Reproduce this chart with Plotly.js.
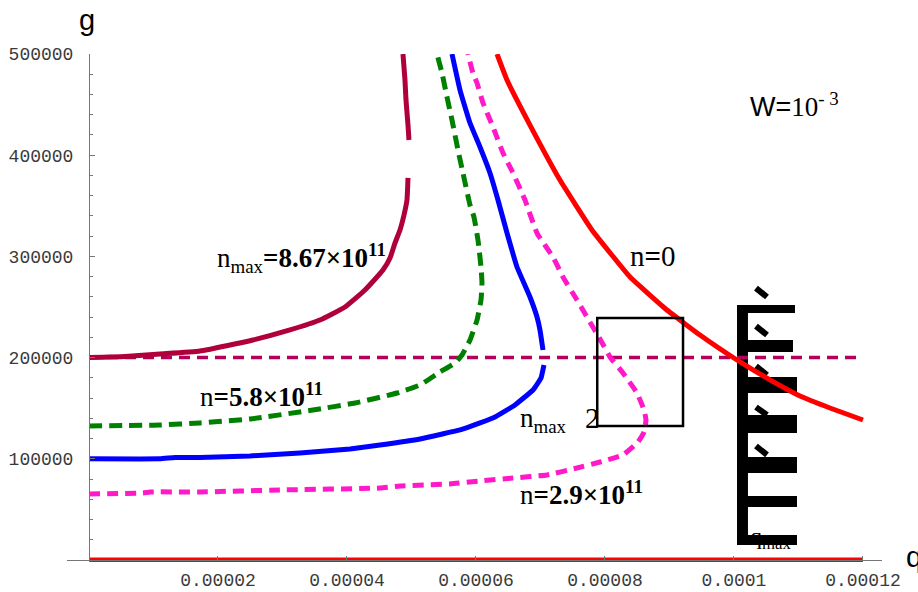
<!DOCTYPE html>
<html>
<head>
<meta charset="utf-8">
<script src="https://cdn.plot.ly/plotly-3.0.1.min.js"></script>
<style>html,body{margin:0;padding:0;background:#fff;}#chart{width:918px;height:592px;}</style>
</head>
<body>
<div id="chart"></div>
<script>
// ---- data ----
const xTickVals = [0.00002, 0.00004, 0.00006, 0.00008, 0.0001, 0.00012];
const xTickText = ["0.00002", "0.00004", "0.00006", "0.00008", "0.0001", "0.00012"];
const yTickVals = [100000, 200000, 300000, 400000, 500000];
const yTickText = ["100000", "200000", "300000", "400000", "500000"];

// n = 0 (red, solid)
const redX = [6.326e-5, 6.481e-5, 6.837e-5, 7.302e-5, 7.798e-5, 8.388e-5, 8.961e-5, 9.473e-5, 1.0047e-4, 1.0558e-4, 1.1023e-4, 1.1488e-4, 1.2e-4];
const redY = [500000, 474300, 429800, 375500, 326100, 279600, 247000, 222300, 197600, 177900, 162000, 150200, 138300];
// n = 0 lower branch (g = 0)
const redZeroX = [0, 0.00012];
const redZeroY = [0, 0];

// n_max = 8.67e11 (maroon, solid)
const maroonX = [0, 5.58e-6, 1.101e-5, 1.721e-5, 2.543e-5, 3.116e-5, 3.581e-5, 3.969e-5, 4.279e-5, 4.558e-5, 4.667e-5, 4.744e-5, 4.822e-5, 4.884e-5, 4.930e-5, 4.946e-5, null, 4.961e-5, 4.946e-5, 4.915e-5, 4.899e-5, 4.868e-5];
const maroonY = [200000, 201000, 203500, 206500, 217400, 227300, 237100, 250000, 266800, 286500, 298400, 313200, 326100, 340900, 355700, 377500, null, 415000, 429800, 454500, 474300, 500000];

// n = 5.8e11 (green, dashed)
const greenX = [0, 1.101e-5, 1.721e-5, 2.496e-5, 3.473e-5, 4.124e-5, 4.775e-5, 5.132e-5, 5.442e-5, 5.674e-5, 5.783e-5, 5.907e-5, 6.016e-5, 6.078e-5, 6.093e-5, 6.078e-5, 6.031e-5, 5.969e-5, 5.907e-5, 5.798e-5, 5.721e-5, 5.628e-5, 5.550e-5, 5.473e-5, 5.395e-5];
const greenY = [132400, 133400, 135400, 139300, 148200, 155100, 165000, 172900, 185800, 194700, 202600, 217400, 237100, 256900, 273700, 289500, 316200, 338900, 350800, 382400, 405100, 434800, 457500, 481200, 500000];

// n_max / 2 (blue, solid)
const blueX = [0, 1.101e-5, 1.333e-5, 1.721e-5, 2.496e-5, 3.271e-5, 4.047e-5, 4.512e-5, 5.132e-5, 5.752e-5, 6.062e-5, 6.295e-5, 6.605e-5, 6.884e-5, 7.008e-5, 7.054e-5, null, 7.039e-5, 6.992e-5, 6.946e-5, 6.837e-5, 6.636e-5, 6.481e-5, 6.341e-5, 6.217e-5, 6.062e-5, 5.907e-5, 5.752e-5, 5.628e-5];
const blueY = [100000, 100000, 101300, 101300, 102800, 105700, 109700, 113600, 119600, 128500, 135400, 141300, 153200, 168000, 179800, 192700, null, 207500, 227300, 240100, 259900, 289500, 323100, 355700, 382400, 408100, 431800, 464400, 500000];

// n = 2.9e11 (magenta, dashed)
const magX = [0, 8.37e-6, 9.46e-6, 1.721e-5, 2.961e-5, 4.512e-5, 4.822e-5, 5.597e-5, 6.062e-5, 6.574e-5, 7.101e-5, 7.566e-5, 7.922e-5, 8.279e-5, 8.512e-5, 8.605e-5, 8.636e-5, 8.605e-5, 8.496e-5, 8.279e-5, 8.078e-5, 7.922e-5, 7.721e-5, 7.566e-5, 7.349e-5, 7.194e-5, 6.946e-5, 6.760e-5, 6.574e-5, 6.419e-5, 6.264e-5, 6.109e-5, 6.016e-5, 5.953e-5, 5.876e-5];
const magY = [65200, 66200, 67200, 67200, 69200, 71100, 73100, 75100, 78100, 81000, 84000, 90900, 96800, 103800, 116600, 126500, 138300, 148200, 165000, 184800, 200600, 218400, 240100, 256900, 279600, 299400, 323100, 355700, 382400, 402200, 427900, 451600, 471300, 481200, 500000];

// g = 200000 reference line (dashed)
const refX = [0, 0.00012];
const refY = [200000, 200000];

// ---- traces ----
const traces = [
  {x: redZeroX, y: redZeroY, mode: 'lines', line: {color: '#ff0000', width: 5}, hoverinfo: 'skip'},
  {x: refX, y: refY, mode: 'lines', line: {color: '#b3005c', width: 3.5, dash: '11px,7px'}, hoverinfo: 'skip'},
  {x: maroonX, y: maroonY, mode: 'lines', connectgaps: false, line: {color: '#b0003a', width: 5, shape: 'spline', smoothing: 0.4}, hoverinfo: 'skip'},
  {x: greenX, y: greenY, mode: 'lines', line: {color: '#008000', width: 5, dash: '13px,7px', shape: 'spline', smoothing: 0.4}, hoverinfo: 'skip'},
  {x: blueX, y: blueY, mode: 'lines', connectgaps: false, line: {color: '#0000ff', width: 5, shape: 'spline', smoothing: 0.3}, hoverinfo: 'skip'},
  {x: magX, y: magY, mode: 'lines', line: {color: '#ff19c8', width: 5, dash: '11px,7px', shape: 'spline', smoothing: 0.4}, hoverinfo: 'skip'},
  {x: redX, y: redY, mode: 'lines', line: {color: '#ff0000', width: 5, shape: 'spline', smoothing: 0.3}, hoverinfo: 'skip'}
];

const serif = 'Liberation Serif, Times New Roman, serif';
const sans = 'Liberation Sans, Arial, sans-serif';

function lab(x, y, text, size, extra) {
  return Object.assign({x: x, y: y, xref: 'x', yref: 'y', text: text, showarrow: false,
    xanchor: 'left', yanchor: 'middle', font: {family: serif, size: size || 27, color: '#000'}}, extra || {});
}

const annotations = [
  lab(1.953e-5, 298400, 'n<sub>max</sub><b>=8.67×10<sup>11</sup></b>'),
  lab(1.690e-5, 163000, 'n<b>=5.8×10<sup>11</sup></b>'),
  lab(6.651e-5, 138300, 'n<sub>max</sub>'),
  lab(7.66e-5, 140300, '2', 29),
  lab(6.651e-5, 66200, 'n<b>=2.9×10<sup>11</sup></b>'),
  lab(8.36e-5, 300400, 'n<b>=</b>0', 29),
  lab(1.0217e-4, 449600, '<span style="font-family:Liberation Sans">W=</span>10<sup>- 3</sup>', 27),
  lab(1.0217e-4, 21700, 'q<sub>max</sub>', 24),
  {x: 0.0245, y: 1.067, xref: 'paper', yref: 'paper', text: 'g', showarrow: false, xanchor: 'center', yanchor: 'middle', font: {family: sans, size: 29, color: '#000'}},
  {x: 1.027, y: 0.01, xref: 'paper', yref: 'paper', text: 'q', showarrow: false, xanchor: 'left', yanchor: 'middle', font: {family: sans, size: 29, color: '#000'}}
];

// decorative black glyph block and box (layout shapes)
const blk = {type: 'rect', xref: 'x', yref: 'y', fillcolor: '#000', line: {width: 0}, layer: 'below'};
function bar(x0, x1, y0, y1) { return Object.assign({}, blk, {x0: x0, x1: x1, y0: y0, y1: y1}); }
function acc(x0, y0, x1, y1) { return {type: 'line', xref: 'x', yref: 'y', x0: x0, y0: y0, x1: x1, y1: y1, line: {color: '#000', width: 6}, layer: 'below'}; }

const shapes = [
  {type: 'rect', xref: 'x', yref: 'y', x0: 7.88e-5, x1: 9.21e-5, y0: 132500, y1: 239000, line: {color: '#000', width: 2.5}, fillcolor: 'rgba(0,0,0,0)'},
  bar(1.0047e-4, 1.0217e-4, 14800, 251970),
  bar(1.0047e-4, 1.0946e-4, 244060, 251970),
  bar(1.0047e-4, 1.0915e-4, 205500, 217400),
  bar(1.0047e-4, 1.0977e-4, 165000, 180800),
  bar(1.0047e-4, 1.0977e-4, 125500, 143300),
  bar(1.0047e-4, 1.0977e-4, 86000, 101800),
  bar(1.0047e-4, 1.0977e-4, 52400, 63200),
  bar(1.0047e-4, 1.0977e-4, 14800, 24700),
  acc(1.0341e-4, 268700, 1.0512e-4, 259900),
  acc(1.0341e-4, 231100, 1.0512e-4, 222300),
  acc(1.0341e-4, 191600, 1.0512e-4, 182800),
  acc(1.0341e-4, 151100, 1.0512e-4, 143300),
  acc(1.0341e-4, 112600, 1.0512e-4, 103800)
];

const minorY = [];
for (let v = 20000; v < 500000; v += 20000) if (v % 100000 !== 0) minorY.push(v);

const tickFont = {family: 'Liberation Mono, Courier New, monospace', size: 18, color: '#3a3a3a'};

const layout = {
  width: 918, height: 592,
  margin: {l: 67, r: 36, t: 54, b: 30},
  paper_bgcolor: '#fff', plot_bgcolor: '#fff',
  showlegend: false,
  xaxis: {
    range: [-3.41e-6, 1.2295e-4], anchor: 'free', position: 0.004,
    showline: true, linecolor: '#777', linewidth: 1, showgrid: false, zeroline: false,
    ticks: 'inside', ticklen: 4, tickcolor: '#777', tickmode: 'array',
    tickvals: xTickVals, ticktext: xTickText,
    tickfont: tickFont,
    ticklabelstandoff: 3
  },
  yaxis: {
    range: [-2000, 500000], anchor: 'free', position: 0.027,
    showline: true, linecolor: '#777', linewidth: 1, showgrid: false, zeroline: false,
    ticks: 'inside', ticklen: 5, tickcolor: '#777', tickmode: 'array',
    tickvals: yTickVals, ticktext: yTickText,
    tickfont: tickFont,
    ticklabelstandoff: 12,
    minor: {tickmode: 'array', tickvals: minorY, ticks: 'inside', ticklen: 3, tickcolor: '#777', showgrid: false}
  },
  annotations: annotations,
  shapes: shapes
};

Plotly.newPlot('chart', traces, layout, {staticPlot: true, displayModeBar: false});
</script>
</body>
</html>
